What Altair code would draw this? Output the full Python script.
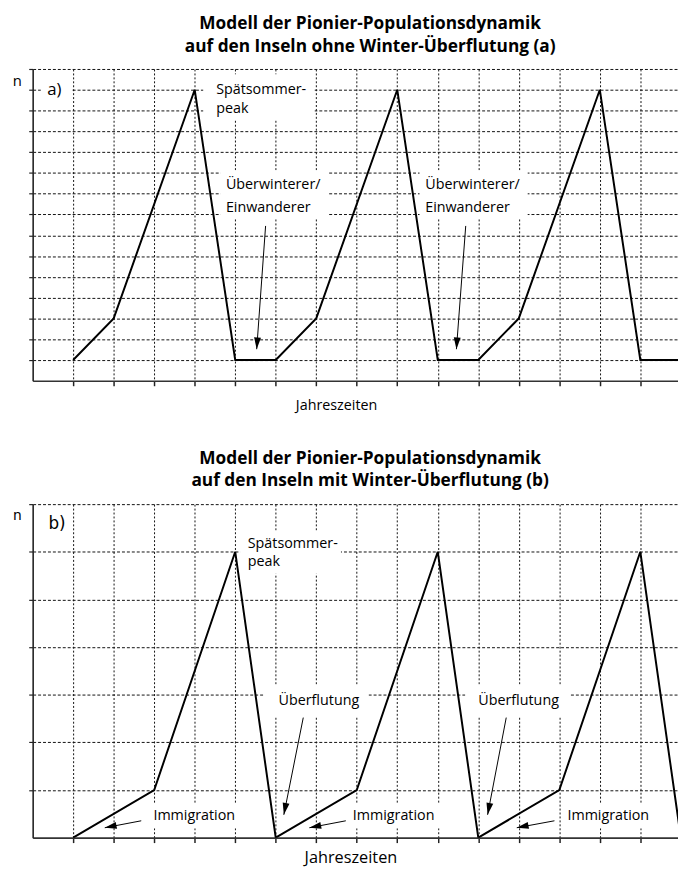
import altair as alt
import pandas as pd

# ---------------- data ----------------
# Panel a: without winter flooding
a_season = [1, 2, 4, 5, 6, 7, 9, 10, 11, 12, 14, 15, 16]
a_n = [1, 3, 14, 1, 1, 3, 14, 1, 1, 3, 14, 1, 1]

# Panel b: with winter flooding
b_season = [1, 3, 5, 6, 8, 10, 11, 13, 15, 16]
b_n = [0, 1, 6, 0, 1, 6, 0, 1, 6, 0]

# annotation texts (data units)
a_labels = ["Spätsommer-", "peak", "Überwinterer/", "Einwanderer", "Überwinterer/", "Einwanderer"]
a_label_x = [4.53, 4.53, 4.77, 4.77, 9.69, 9.69]
a_label_y = [14.0, 13.05, 9.44, 8.31, 9.44, 8.31]

b_labels = ["Spätsommer-", "peak", "Überflutung", "Überflutung", "Immigration", "Immigration", "Immigration"]
b_label_x = [5.31, 5.31, 6.07, 11.0, 2.98, 7.9, 13.2]
b_label_y = [6.16, 5.78, 2.86, 2.86, 0.46, 0.46, 0.46]

# white label backgrounds (data units)
a_box_x = [4.21, 4.63, 9.55, 0.2]
a_box_x2 = [6.96, 7.3, 12.22, 0.95]
a_box_y = [12.55, 7.83, 7.83, 13.6]
a_box_y2 = [14.75, 10.12, 10.12, 14.4]

b_box_x = [5.12, 5.73, 10.68, 2.85, 7.78, 13.07]
b_box_x2 = [7.61, 8.29, 13.24, 5.17, 10.1, 15.41]
b_box_y = [5.54, 2.54, 2.54, 0.2, 0.2, 0.2]
b_box_y2 = [6.44, 3.21, 3.21, 0.72, 0.72, 0.72]

# arrows (start -> tip, data units) and head rotation
a_arrow_x = [5.75, 10.69]
a_arrow_y = [7.45, 7.45]
a_arrow_x2 = [5.53, 10.46]
a_arrow_y2 = [1.52, 1.52]
a_arrow_angle = [4, 4]

b_arrow_x = [6.68, 11.69, 2.68, 7.73, 12.88]
b_arrow_y = [2.52, 2.52, 0.354, 0.354, 0.354]
b_arrow_x2 = [6.2, 11.23, 1.78, 6.83, 11.95]
b_arrow_y2 = [0.48, 0.48, 0.208, 0.208, 0.208]
b_arrow_angle = [11, 11, 79, 79, 79]

x_ticks = list(range(1, 16))
a_y_ticks = list(range(1, 16))
b_y_ticks = list(range(1, 8))

FONT = "Open Sans"
ANN_SIZE = 14.5
HEAD = "M0,0L-0.29,-1L0.29,-1Z"


def panel(season, n, ymax, yticks, labels, lx, ly, bx, bx2, by, by2,
          ax, ay, ax2, ay2, aang, tag, tag_x, tag_y, tag_font, tag_size,
          title_lines, n_font, n_size, n_title_y, xt_size, xt_x, xt_pad,
          w, h, t_offset):
    xs = alt.Scale(domain=[0, 15.93], nice=False, zero=False)
    ys = alt.Scale(domain=[0, ymax], nice=False, zero=False)
    xaxis = alt.Axis(values=x_ticks, labels=False, tickSize=5, tickWidth=1.5,
                     tickColor="#222", domainColor="#333", domainWidth=1.6,
                     grid=True, gridDash=[2, 2], gridColor="#111", gridWidth=1,
                     title="Jahreszeiten", titleFont=FONT, titleFontSize=xt_size,
                     titleFontWeight="normal", titleColor="black",
                     titleX=xt_x, titleAlign="center", titlePadding=xt_pad)
    yaxis = alt.Axis(values=yticks, labels=False, tickSize=4, tickWidth=1.2,
                     tickColor="#222", domainColor="#222", domainWidth=1.6,
                     grid=True, gridDash=[3, 2], gridColor="#111", gridWidth=1,
                     title="n", titleAngle=0, titleX=-16, titleY=n_title_y,
                     titleAlign="center", titleBaseline="alphabetic",
                     titleFont=n_font, titleFontSize=n_size,
                     titleFontWeight="normal", titleColor="black")

    line_df = pd.DataFrame({"season": season, "n": n})
    box_df = pd.DataFrame({"x": bx, "x2": bx2, "y": by, "y2": by2})
    lab_df = pd.DataFrame({"x": lx, "y": ly, "t": labels})
    arr_df = pd.DataFrame({"x": ax, "y": ay, "x2": ax2, "y2": ay2, "a": aang})
    tag_df = pd.DataFrame({"x": [tag_x], "y": [tag_y], "t": [tag]})

    boxes = alt.Chart(box_df).mark_rect(color="white").encode(
        x=alt.X("x:Q", scale=xs, axis=xaxis), x2="x2:Q",
        y=alt.Y("y:Q", scale=ys, axis=yaxis), y2="y2:Q")

    line = alt.Chart(line_df).mark_line(color="black", strokeWidth=2, clip=True).encode(
        x=alt.X("season:Q", scale=xs, axis=xaxis),
        y=alt.Y("n:Q", scale=ys, axis=yaxis),
        order="season:Q")

    arrows = alt.Chart(arr_df).mark_rule(color="black", strokeWidth=1).encode(
        x=alt.X("x:Q", scale=xs, axis=xaxis), x2="x2:Q",
        y=alt.Y("y:Q", scale=ys, axis=yaxis), y2="y2:Q")

    heads = alt.Chart(arr_df).mark_point(shape=HEAD, filled=True, color="black",
                                         size=576, opacity=1).encode(
        x=alt.X("x2:Q", scale=xs, axis=xaxis),
        y=alt.Y("y2:Q", scale=ys, axis=yaxis),
        angle=alt.Angle("a:Q", scale=None))

    texts = alt.Chart(lab_df).mark_text(align="left", baseline="middle", font=FONT,
                                        fontSize=ANN_SIZE, color="black").encode(
        x=alt.X("x:Q", scale=xs, axis=xaxis),
        y=alt.Y("y:Q", scale=ys, axis=yaxis),
        text="t:N")

    tagm = alt.Chart(tag_df).mark_text(align="left", baseline="middle", font=tag_font,
                                       fontSize=tag_size, color="black").encode(
        x=alt.X("x:Q", scale=xs, axis=xaxis),
        y=alt.Y("y:Q", scale=ys, axis=yaxis),
        text="t:N")

    return alt.layer(boxes, line, arrows, heads, texts, tagm).properties(
        width=w, height=h,
        title=alt.TitleParams(text=title_lines, font=FONT, fontSize=17.5,
                              fontWeight="bold", color="black", anchor="middle",
                              frame="group", dx=15, lineHeight=23, offset=t_offset))


chart_a = panel(a_season, a_n, 15, a_y_ticks, a_labels, a_label_x, a_label_y,
                a_box_x, a_box_x2, a_box_y, a_box_y2,
                a_arrow_x, a_arrow_y, a_arrow_x2, a_arrow_y2, a_arrow_angle,
                "a)", 0.36, 14.0, FONT, 17,
                ["Modell der Pionier-Populationsdynamik",
                 "auf den Inseln ohne Winter-Überflutung (a)"],
                FONT, 15, 16.7, 14.5, 307.5, 12, 654, 316, 13)

chart_b = panel(b_season, b_n, 7, b_y_ticks, b_labels, b_label_x, b_label_y,
                b_box_x, b_box_x2, b_box_y, b_box_y2,
                b_arrow_x, b_arrow_y, b_arrow_x2, b_arrow_y2, b_arrow_angle,
                "b)", 0.39, 6.58, "DejaVu Sans", 17,
                ["Modell der Pionier-Populationsdynamik",
                 "auf den Inseln mit Winter-Überflutung (b)"],
                "DejaVu Sans", 14, 16, 16.5, 322, 6, 654, 338, 14)

chart = alt.vconcat(chart_a, chart_b, spacing=37).properties(
    padding={"left": 4, "top": 1, "right": 0, "bottom": 0}
).configure_view(stroke=None)

chart.save("out.html", embed_options={"renderer": "svg", "actions": False})
